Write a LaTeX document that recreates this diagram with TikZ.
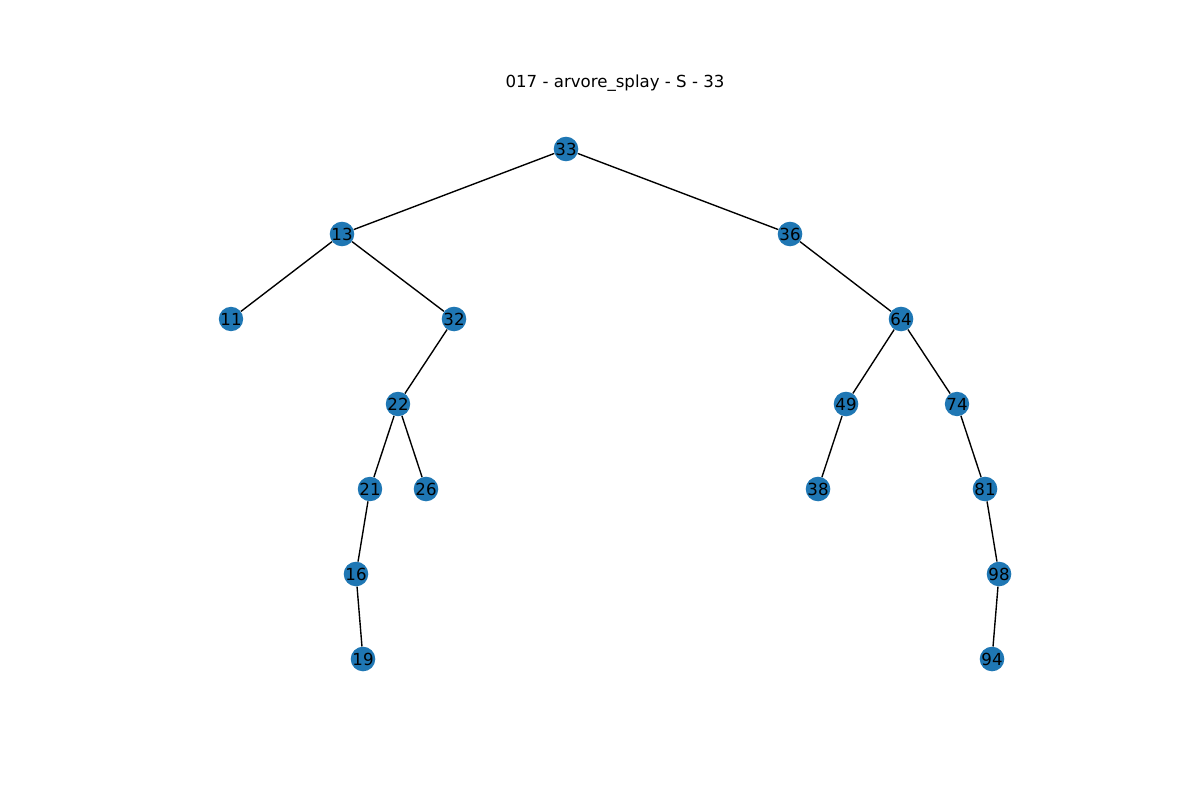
\documentclass[tikz,border=0pt]{standalone}
\usepackage{fontspec}
\setmainfont{DejaVu Sans}
\usepackage{xcolor}
\usepackage{tikz}
\definecolor{nodeblue}{HTML}{1F77B4}

\begin{document}
\begin{tikzpicture}[x=0.254mm, y=-0.254mm,
    vert/.style={circle, fill=nodeblue, minimum size=6.1mm, inner sep=0pt, font=\fontsize{12}{14}\selectfont},
    edge/.style={black, line width=1pt}]
% 画布大小 1200 x 800
\useasboundingbox (0,0) rectangle (1200,800);

% 标题
\node[font=\fontsize{12}{14}\selectfont] (title) at (615, 83) {017 - arvore\_splay - S - 33};

% 第0层和第1层
\node[vert] (n33) at (566, 149) {33};
\node[vert] (n13) at (342, 234) {13};
\node[vert] (n36) at (790, 234) {36};

% 第2层
\node[vert] (n11) at (231, 319) {11};
\node[vert] (n32) at (454, 319) {32};
\node[vert] (n64) at (901, 319) {64};

% 第3层
\node[vert] (n22) at (398, 404) {22};
\node[vert] (n49) at (846, 404) {49};
\node[vert] (n74) at (957, 404) {74};

% 第4层
\node[vert] (n21) at (370, 489) {21};
\node[vert] (n26) at (426, 489) {26};
\node[vert] (n38) at (818, 489) {38};
\node[vert] (n81) at (985, 489) {81};

% 第5层和第6层
\node[vert] (n16) at (356, 574) {16};
\node[vert] (n98) at (999, 574) {98};
\node[vert] (n19) at (363, 659) {19};
\node[vert] (n94) at (992, 659) {94};

% 父子连线
\foreach \p/\c in {33/13, 33/36, 13/11, 13/32, 32/22, 22/21, 22/26, 21/16, 16/19,
                   36/64, 64/49, 64/74, 49/38, 74/81, 81/98, 98/94}
    \draw[edge] (n\p) -- (n\c);
\end{tikzpicture}
\end{document}
